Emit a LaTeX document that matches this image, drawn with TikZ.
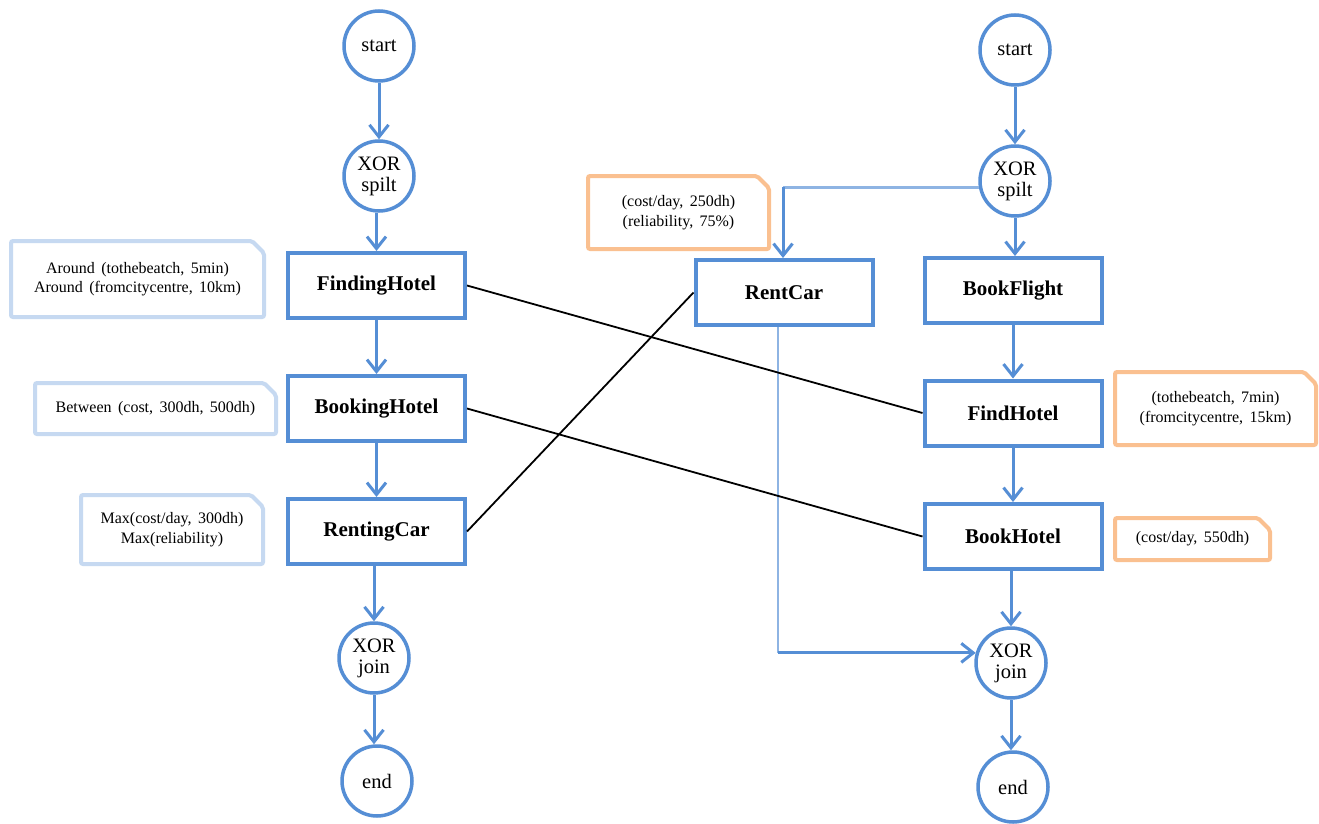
\documentclass[tikz,border=0pt]{standalone}
\usepackage{fontspec}
\setmainfont{Liberation Serif}
\newfontfamily\notefont[WordSpace=1.6]{Liberation Serif}
\usetikzlibrary{arrows.meta}
\definecolor{flowblue}{HTML}{558ED5}
\definecolor{lightline}{HTML}{8EB4E3}
\definecolor{noteblue}{HTML}{C6D9F1}
\definecolor{noteorange}{HTML}{FAC090}
\begin{document}
\begin{tikzpicture}[x=1pt,y=-1pt,
  gate/.style={circle, draw=flowblue, fill=white, line width=3.5pt, minimum size=70pt, inner sep=0pt, align=center, font=\fontsize{20.5}{21}\selectfont},
  task/.style={rectangle, draw=flowblue, fill=white, line width=4pt, minimum width=177pt, minimum height=65pt, inner sep=0pt, font=\fontsize{21}{24}\selectfont\bfseries},
  flow/.style={draw=flowblue, line width=3pt, -{Straight Barb[length=12pt,width=19pt]}},
  lightconn/.style={draw=lightline, line width=2.5pt},
  link/.style={draw=black, line width=1.8pt},
  note/.style={inner sep=0pt, outer sep=0pt, align=center, font=\notefont\fontsize{16}{19.5}\selectfont},
  noteline/.style={line width=4pt, rounded corners=2pt}
]
\useasboundingbox (0,0) rectangle (1319,824);
\fill[white] (0,0) rectangle (1319,824);

% left process
\node[gate] (ls) at (379,46) {start};
\node[gate] (lx) at (379,176) {XOR\\spilt};
\node[task] (fh) at (376.5,285.5) {FindingHotel};
\node[task] (bh) at (376.5,408.5) {BookingHotel};
\node[task] (rc) at (376.5,531.5) {RentingCar};
\node[gate] (lj) at (374,658) {XOR\\join};
\node[gate] (le) at (377,781) {end};

% right process
\node[gate] (rs) at (1015,50) {start};
\node[gate] (rx) at (1015,181) {XOR\\spilt};
\node[task] (bf) at (1013,290.5) {BookFlight};
\node[task] (fd) at (1013,413) {FindHotel};
\node[task] (bk) at (1013,536.5) {BookHotel};
\node[gate] (rj) at (1011,663) {XOR\\join};
\node[gate] (re) at (1013,787) {end};
\node[task] (rn) at (784,292.5) {RentCar};

% notes
\node[note, minimum width=253pt, minimum height=76pt] (n1) at (137.5,279) {Around (tothebeatch, 5min)\\Around (fromcitycentre, 10km)};
\node[note, minimum width=241pt, minimum height=51pt] (n2) at (155.5,408.5) {Between (cost, 300dh, 500dh)};
\node[note, minimum width=182pt, minimum height=69pt] (n3) at (172,529.5) {Max(cost/day, 300dh)\\Max(reliability)};
\node[note, minimum width=181pt, minimum height=73pt] (o1) at (678.5,212.5) {(cost/day, 250dh)\\(reliability, 75\%)};
\node[note, minimum width=201pt, minimum height=73pt] (o2) at (1215.5,408.5) {(tothebeatch, 7min)\\(fromcitycentre, 15km)};
\node[note, minimum width=155pt, minimum height=42pt] (o3) at (1192.5,539) {(cost/day, 550dh)};
\foreach \n/\c in {n1/noteblue, n2/noteblue, n3/noteblue, o1/noteorange, o2/noteorange, o3/noteorange}
  \draw[noteline, draw=\c] (\n.south west) -- (\n.north west) -- ([xshift=-12pt]\n.north east) -- ([yshift=-12pt]\n.north east) -- (\n.south east) -- cycle;

% left flows
\draw[flow] (ls.south) -- (ls.south |- lx.north);
\draw[flow] (fh.north |- lx.south) -- (fh.north);
\draw[flow] (fh.south) -- (bh.north);
\draw[flow] (bh.south) -- (rc.north);
\draw[flow] (lj.north |- rc.south) -- (lj.north);
\draw[flow] (lj.south) -- (lj.south |- le.north);

% right flows
\draw[flow] (rs.south) -- (rs.south |- rx.north);
\draw[flow] (rx.south) -- (rx.south |- bf.north);
\draw[flow] (bf.south) -- (fd.north);
\draw[flow] (fd.south) -- (bk.north);
\draw[flow] (rj.north |- bk.south) -- (rj.north);
\draw[flow] (rj.south) -- (rj.south |- re.north);

\coordinate (c1) at ([xshift=-1pt]rn.north |- rx.190);
\draw[lightconn] (rx.190) -- (c1);
\draw[flow] (c1) -- ([xshift=-1pt]rn.north);
\coordinate (c2) at ([xshift=-6pt]rn.south);
\coordinate (c3) at (c2 |- rj.164);
\draw[lightconn] (c2) -- (c3);
\draw[flow] (c3) -- (rj.164);

% mapping links
\draw[link] (fh.east) -- (fd.west);
\draw[link] (bh.east) -- (bk.west);
\draw[link] (rc.east) -- (rn.west);
\end{tikzpicture}
\end{document}
